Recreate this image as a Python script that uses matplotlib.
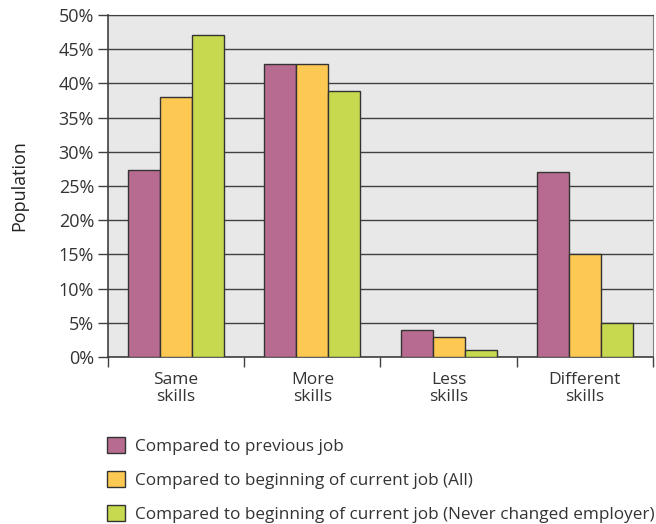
import numpy as np
import matplotlib.pyplot as plt
from matplotlib.ticker import FuncFormatter

plt.rcParams['font.family'] = ['Open Sans', 'DejaVu Sans']

categories = ["Same\nskills", "More\nskills", "Less\nskills", "Different\nskills"]
series_names = [
    "Compared to previous job",
    "Compared to beginning of current job (All)",
    "Compared to beginning of current job (Never changed employer)",
]
previous_job = [27.3, 42.8, 3.9, 27.1]
current_all = [38.0, 42.8, 2.9, 15.0]
never_changed = [47.1, 38.9, 1.0, 5.0]
colors = ["#b86b90", "#fec952", "#c6d94f"]

fig = plt.figure(figsize=(6.56, 5.24), dpi=100)
ax = fig.add_axes([0.1646, 0.3187, 0.8308, 0.6527])
ax.set_facecolor("#e8e8e8")

x = np.arange(len(categories))
w = 0.235
for i, (vals, col, name) in enumerate(zip([previous_job, current_all, never_changed], colors, series_names)):
    ax.bar(x + (i - 1) * w, vals, width=w, color=col, edgecolor="#333333",
           linewidth=1.0, label=name, zorder=3)

ax.set_xlim(-0.5, 3.5)
ax.set_ylim(0, 50)
ax.set_yticks(np.arange(0, 51, 5))
ax.yaxis.set_major_formatter(FuncFormatter(lambda v, p: f"{v:.0f}%"))
ax.grid(axis="y", color="#404040", linewidth=1.0, zorder=1)
ax.set_axisbelow(True)

# category labels centred, tick marks on the group boundaries
ax.set_xticks(x)
ax.set_xticklabels(categories, fontsize=12.5, color="#333333", linespacing=1.1)
ax.tick_params(axis="x", which="major", length=0, pad=11)
ax.set_xticks(np.arange(-0.5, 4, 1), minor=True)
ax.tick_params(axis="x", which="minor", length=7, width=1, color="#404040")
ax.tick_params(axis="y", length=7, width=1, color="#404040", labelsize=13,
               labelcolor="#333333", pad=3)

for side in ["left", "bottom"]:
    ax.spines[side].set_color("#404040")
    ax.spines[side].set_linewidth(1.2)
ax.spines["top"].set_color("#404040")
ax.spines["right"].set_color("#808080")

ax.set_ylabel("Population", fontsize=13, color="#222222", labelpad=22)

fig.legend(loc="upper left", bbox_to_anchor=(0.152, 0.18), frameon=False,
           fontsize=12.3, handlelength=1.1, handleheight=1.1, handletextpad=0.55,
           labelspacing=0.95, borderaxespad=0, labelcolor="#333333")

fig.savefig("out.png", dpi=100)
